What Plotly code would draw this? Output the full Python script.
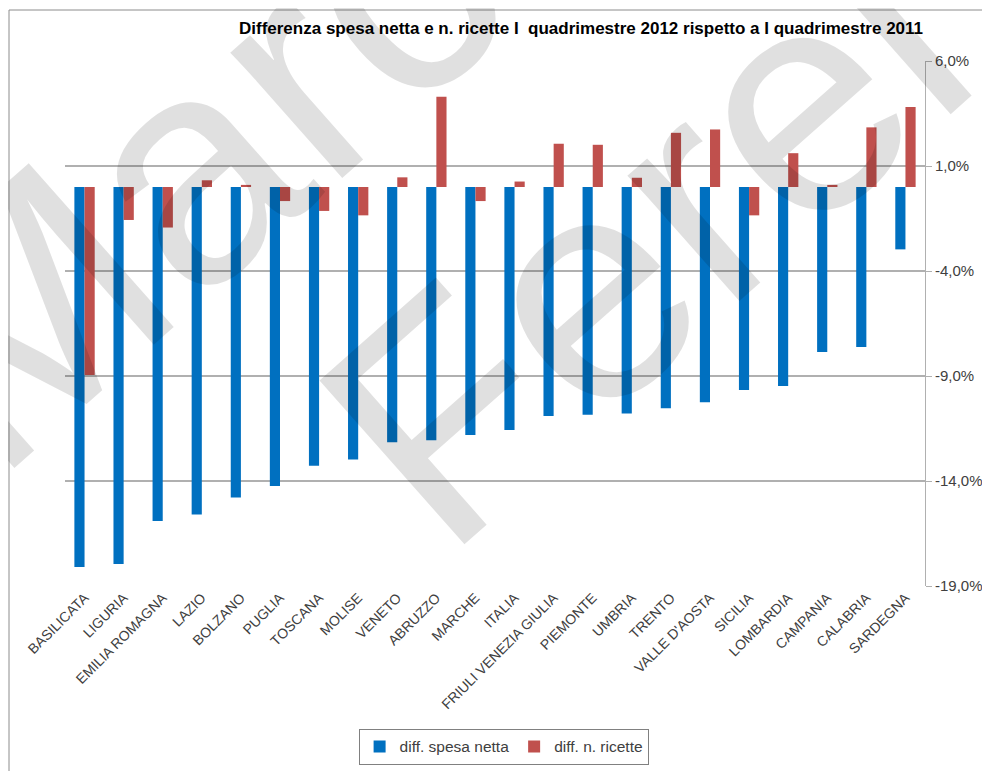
import plotly.graph_objects as go

categories = ["BASILICATA", "LIGURIA", "EMILIA ROMAGNA", "LAZIO", "BOLZANO", "PUGLIA",
              "TOSCANA", "MOLISE", "VENETO", "ABRUZZO", "MARCHE", "ITALIA",
              "FRIULI VENEZIA GIULIA", "PIEMONTE", "UMBRIA", "TRENTO", "VALLE D'AOSTA",
              "SICILIA", "LOMBARDIA", "CAMPANIA", "CALABRIA", "SARDEGNA"]

spesa_netta = [-18.1, -17.95, -15.9, -15.6, -14.78, -14.24, -13.27, -12.98, -12.16, -12.06,
               -11.81, -11.57, -10.9, -10.84, -10.79, -10.54, -10.25, -9.67, -9.48, -7.86,
               -7.62, -2.97]

n_ricette = [-8.95, -1.57, -1.93, 0.32, 0.1, -0.67, -1.14, -1.35, 0.46, 4.3,
             -0.67, 0.26, 2.06, 2.01, 0.44, 2.58, 2.74, -1.35, 1.61, 0.1,
             2.84, 3.81]

y_tickvals = [-19, -14, -9, -4, 1, 6]
y_ticktext = ["-19,0%", "-14,0%", "-9,0%", "-4,0%", "1,0%", "6,0%"]

series_names = ["diff. spesa netta", "diff. n. ricette"]
series_colors = ["#0070C0", "#C0504D"]

title_text = "Differenza spesa netta e n. ricette I  quadrimestre 2012 rispetto a I quadrimestre 2011"
watermark = ["Marco", "Ferel"]

FONT = "Liberation Sans"
GRID = "#b0b0b0"
WM = "rgba(0,0,0,0.12)"

fig = go.Figure()
fig.add_trace(go.Bar(x=categories, y=spesa_netta, name=series_names[0],
                     marker=dict(color=series_colors[0], line=dict(width=0))))
fig.add_trace(go.Bar(x=categories, y=n_ricette, name=series_names[1],
                     marker=dict(color=series_colors[1], line=dict(width=0))))

n = len(categories)
boundaries = [i - 0.5 for i in range(n + 1)]

fig.update_layout(
    width=982, height=763,
    margin=dict(l=57, r=65, t=53, b=185, autoexpand=False),
    paper_bgcolor="white", plot_bgcolor="white",
    barmode="group", bargap=0.48, bargroupgap=0,
    font=dict(family=FONT, color="#404040"),
    title=dict(text=title_text, x=0.6, xref="paper", xanchor="center",
               y=1 - 20 / 763, yref="container", yanchor="middle",
               font=dict(family=FONT, size=17, color="#000000", weight="bold")),
    xaxis=dict(type="category", showgrid=False, ticks="", showline=False,
               tickangle=-45, tickfont=dict(size=14, color="#404040"),
               range=[-0.5, n - 0.5], automargin=False),
    xaxis2=dict(overlaying="x", anchor="free", position=(0 - (-19)) / 25,
                range=[-0.5, n - 0.5], showgrid=False, showticklabels=False,
                tickvals=boundaries, ticks="outside", ticklen=4, tickcolor=GRID,
                showline=True, linecolor=GRID, linewidth=1, zeroline=False),
    yaxis=dict(side="right", range=[-19, 6], tickvals=y_tickvals, ticktext=y_ticktext,
               showgrid=True, gridcolor=GRID, gridwidth=1.6, zeroline=False,
               showline=True, linecolor=GRID, linewidth=1,
               ticks="outside", ticklen=6, tickcolor=GRID, automargin=False,
               tickfont=dict(size=15, color="#404040")),
    legend=dict(orientation="h", x=0.51, xanchor="center", y=-0.272, yanchor="top",
                bordercolor="#808080", borderwidth=1, font=dict(size=15.5, color="#404040"),
                itemwidth=30, traceorder="normal"),
    showlegend=True,
    shapes=[dict(type="rect", xref="paper", yref="paper",
                 x0=(9 - 65) / 860, x1=1.2, y0=-0.7, y1=(586 - 10) / 525,
                 line=dict(color="#8c8c8c", width=1), layer="below")],
    annotations=[
        dict(text=watermark[0], xref="paper", yref="paper", x=0.2186, y=0.9067,
             xanchor="center", yanchor="middle", showarrow=False, textangle=-41.5,
             font=dict(family=FONT, size=318, color=WM)),
        dict(text=watermark[1], xref="paper", yref="paper", x=0.6727, y=0.661,
             xanchor="center", yanchor="middle", showarrow=False, textangle=-41.5,
             font=dict(family=FONT, size=318, color=WM)),
    ],
)

fig.write_html("out.html")
